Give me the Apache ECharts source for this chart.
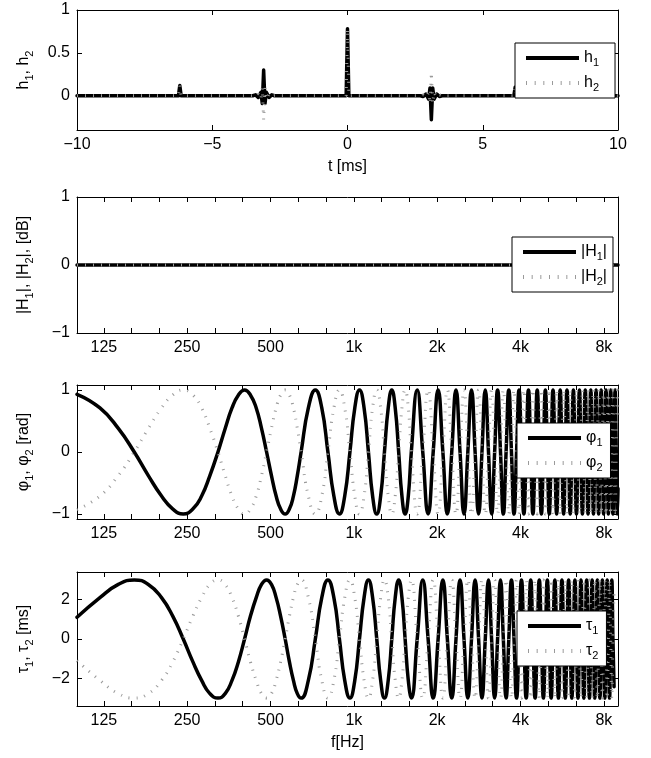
<!DOCTYPE html>
<html><head><meta charset="utf-8">
<script src="https://cdn.jsdelivr.net/npm/echarts@6/dist/echarts.min.js"></script>
<style>html,body{margin:0;padding:0;background:#fff}#c{width:651px;height:758px}</style>
</head><body><div id="c"></div>
<script>
// ---------- data ----------
const timeMs = [-10,-9.35,-9.3,-9.25,-6.25,-6.2,-6.15,-3.5,-3.4,-3.3,-3.2,-3.15,-3.1,-3.05,-3.0,-2.9,-2.8,-2.7,-0.05,0,0.05,2.7,2.8,2.9,3.0,3.05,3.1,3.15,3.2,3.3,3.4,3.5,6.15,6.2,6.25,9.25,9.3,9.35,10];
const h1 = [0,0,0.02,0,0,0.12,0,0,0.01,-0.02,0.04,-0.09,0.30,-0.09,0.04,-0.02,0.01,0,0,0.78,0,0,-0.01,0.02,-0.04,0.09,-0.28,0.09,-0.04,0.02,-0.01,0,0,0.10,0,0,-0.02,0,0];
const h2 = [0,0,-0.02,0,0,0.12,0,0,-0.01,0.02,-0.04,0.09,-0.28,0.09,-0.04,0.02,-0.01,0,0,0.78,0,0,0.01,-0.02,0.04,-0.09,0.27,-0.09,0.04,-0.02,0.01,0,0,0.10,0,0,0.02,0,0];

const freqFlat = [100, 9000];
const magH1 = [0, 0];
const magH2 = [0, 0];

const freqHz = [100,121,141,161,181,202,222,242,262,282,302,323,343,363,383,403,423,444,464,484,504,524,544,565,585,605,625,645,
685,726,766,806,847,887,927,968,1008,1048,1089,1129,1169,1210,1250,1290,1331,1371,1411,1452,1492,1532,1573,1613,
1694,1774,1855,1935,2016,2097,2177,2258,2339,2419,2500,2581,2661,2742,2823,2903,2984,3065,3145,3226,3306,3387,3468,3548,3629,3710,3790,3871,3952,4032,4113,4194,4274,4355,4435,4516,4597,4677,4758,4839,4919,5000,5081,5161,5242,5323,5403,5484,5565,5645,5726,5806,5887,5968,6048,6129,6210,6290,6371,6452,6532,6613,6694,6774,6855,6935,7016,7097,7177,7258,7339,7419,7500,7581,7661,7742,7823,7903,7984,8065,8145,8226,8306,8387,8468,8548,8629,8710,8790,8871,8952,9000];

const phi1 = [0.93,0.71,0.38,0,-0.38,-0.71,-0.92,-1,-0.92,-0.71,-0.38,0,0.38,0.71,0.92,1,0.92,0.71,0.38,0,-0.38,-0.71,-0.92,-1,-0.92,-0.71,-0.38,0,
0.71,1,0.71,0,-0.71,-1,-0.71,0,0.71,1,0.71,0,-0.71,-1,-0.71,0,0.71,1,0.71,0,-0.71,-1,-0.71,0,
1,0,-1,0,1,0,-1,0,1,0,-1,0,1,0,-1,0,1,0,-1,0,1,0,-1,0,1,0,-1,0,1,0,-1,0,1,0,-1,0,1,0,-1,0,1,0,-1,0,1,0,-1,0,1,0,-1,0,1,0,-1,0,1,0,-1,0,1,0,-1,0,1,0,-1,0,1,0,-1,0,1,0,-1,0,1,0,-1,0,1,0,-1,0,1,0,-1,0,1,0,-1,-0.59];
const phi2 = [-0.93,-0.71,-0.38,0,0.38,0.71,0.92,1,0.92,0.71,0.38,0,-0.38,-0.71,-0.92,-1,-0.92,-0.71,-0.38,0,0.38,0.71,0.92,1,0.92,0.71,0.38,0,
-0.71,-1,-0.71,0,0.71,1,0.71,0,-0.71,-1,-0.71,0,0.71,1,0.71,0,-0.71,-1,-0.71,0,0.71,1,0.71,0,
-1,0,1,0,-1,0,1,0,-1,0,1,0,-1,0,1,0,-1,0,1,0,-1,0,1,0,-1,0,1,0,-1,0,1,0,-1,0,1,0,-1,0,1,0,-1,0,1,0,-1,0,1,0,-1,0,1,0,-1,0,1,0,-1,0,1,0,-1,0,1,0,-1,0,1,0,-1,0,1,0,-1,0,1,0,-1,0,1,0,-1,0,1,0,-1,0,1,0,-1,0,1,0.59];
const tau1 = [1.1,2.1,2.77,3,2.77,2.1,1.15,0,-1.15,-2.1,-2.77,-3,-2.77,-2.1,-1.15,0,1.15,2.1,2.77,3,2.77,2.1,1.15,0,-1.15,-2.1,-2.77,-3,
-2.1,0,2.1,3,2.1,0,-2.1,-3,-2.1,0,2.1,3,2.1,0,-2.1,-3,-2.1,0,2.1,3,2.1,0,-2.1,-3,
0,3,0,-3,0,3,0,-3,0,3,0,-3,0,3,0,-3,0,3,0,-3,0,3,0,-3,0,3,0,-3,0,3,0,-3,0,3,0,-3,0,3,0,-3,0,3,0,-3,0,3,0,-3,0,3,0,-3,0,3,0,-3,0,3,0,-3,0,3,0,-3,0,3,0,-3,0,3,0,-3,0,3,0,-3,0,3,0,-3,0,3,0,-3,0,3,0,-2.42];
const tau2 = [-1.1,-2.1,-2.77,-3,-2.77,-2.1,-1.15,0,1.15,2.1,2.77,3,2.77,2.1,1.15,0,-1.15,-2.1,-2.77,-3,-2.77,-2.1,-1.15,0,1.15,2.1,2.77,3,
2.1,0,-2.1,-3,-2.1,0,2.1,3,2.1,0,-2.1,-3,-2.1,0,2.1,3,2.1,0,-2.1,-3,-2.1,0,2.1,3,
0,-3,0,3,0,-3,0,3,0,-3,0,3,0,-3,0,3,0,-3,0,3,0,-3,0,3,0,-3,0,3,0,-3,0,3,0,-3,0,3,0,-3,0,3,0,-3,0,3,0,-3,0,3,0,-3,0,3,0,-3,0,3,0,-3,0,3,0,-3,0,3,0,-3,0,3,0,-3,0,3,0,-3,0,3,0,-3,0,3,0,-3,0,3,0,-3,0,2.42];

const freqLabelTicks = [125,250,500,1000,2000,4000,8000];
const freqMinorTicks = [125,157.49,198.43,250,314.98,396.85,500,629.96,793.70,1000,1259.92,1587.40,2000,2519.84,3174.80,4000,5039.68,6349.60,8000];
const hTicks = [0,0.5,1];
const magTicks = [-1,0,1];
const phiTicks = [-1,0,1];
const tauTicks = [-2,0,2];

// ---------- chart ----------
const FONT = '"Liberation Sans", Arial, Helvetica, sans-serif';
const grids = [
  {left:77, top:10, width:541, height:120},
  {left:77, top:197, width:541, height:136},
  {left:77, top:385, width:541, height:134},
  {left:77, top:572, width:541, height:134}
];
const minus = v => String(v).replace('-', '\u2212');
const fmtFreq = v => v >= 1000 ? (Math.round(v/1000)) + 'k' : String(Math.round(v));
const rich = {s:{fontSize:11, lineHeight:11, verticalAlign:'bottom', fontFamily:FONT, color:'#000'}};
const nameStyle = {fontSize:16, color:'#000', fontFamily:FONT, lineHeight:22, rich};
const axLine = {show:true, onZero:false, lineStyle:{color:'#000', width:1}};
function tick(custom){ const t = {show:true, inside:true, length:5, lineStyle:{color:'#000', width:1}}; if (custom) t.customValues = custom; return t; }
function lab(show, fmt, custom){ const l = {show, color:'#000', fontSize:16, fontFamily:FONT, margin:7, formatter:fmt}; if (custom) l.customValues = custom; return l; }

const xAxis = [], yAxis = [];
['bottom','top'].forEach((pos,j) => xAxis.push({
  type:'value', gridIndex:0, position:pos, min:-10, max:10, interval:5,
  axisLine:axLine, axisTick:tick(), axisLabel:lab(j===0, minus), splitLine:{show:false},
  name: j===0 ? 't [ms]' : '', nameLocation:'middle', nameGap:26, nameTextStyle:nameStyle
}));
for (let g=1; g<=3; g++) {
  ['bottom','top'].forEach((pos,j) => xAxis.push({
    type:'log', logBase:2, gridIndex:g, position:pos, min:100, max:9000,
    axisLine:axLine, axisTick:tick(freqMinorTicks), axisLabel:lab(j===0, fmtFreq, freqLabelTicks),
    splitLine:{show:false}, minorTick:{show:false},
    name: (g===3 && j===0) ? 'f[Hz]' : '', nameLocation:'middle', nameGap:26, nameTextStyle:nameStyle
  }));
}
const ySpecs = [
  {min:-0.4, max:1, ticks:hTicks, name:'h{s|1}, h{s|2}'},
  {min:-1, max:1, ticks:magTicks, name:'|H{s|1}|, |H{s|2}|, [dB]'},
  {min:-1.08, max:1.08, ticks:phiTicks, name:'\u03c6{s|1}, \u03c6{s|2} [rad]'},
  {min:-3.4, max:3.4, ticks:tauTicks, name:'\u03c4{s|1}, \u03c4{s|2} [ms]'}
];
ySpecs.forEach((s,g) => {
  ['left','right'].forEach((pos,j) => yAxis.push({
    type:'value', gridIndex:g, position:pos, min:s.min, max:s.max,
    axisLine:axLine, axisTick:tick(s.ticks), axisLabel:lab(j===0, minus, s.ticks), splitLine:{show:false},
    name: j===0 ? s.name : '', nameLocation:'middle', nameGap:42, nameRotate:90, nameTextStyle:nameStyle
  }));
});

const solid = {color:'#000', width:3.5, cap:'round', join:'round'};
const dotted = {color:'#9a9a9a', width:3, type:[1,7]};
function zip(xs, ys){ return xs.map((x,i) => [x, ys[i]]); }
function ser(name, g, xs, ys, style, smooth){
  return {name, type:'line', xAxisIndex:g*2, yAxisIndex:g*2, data:zip(xs,ys), symbol:'none', showSymbol:false,
    smooth: smooth ? 0.5 : false, lineStyle:style, itemStyle:{color:style.color}, animation:false, silent:true};
}
const series = [
  ser('h1',0,timeMs,h1,solid,false), ser('h2',0,timeMs,h2,dotted,false),
  ser('H1',1,freqFlat,magH1,solid,false), ser('H2',1,freqFlat,magH2,dotted,false),
  ser('phi1',2,freqHz,phi1,solid,true), ser('phi2',2,freqHz,phi2,dotted,true),
  ser('tau1',3,freqHz,tau1,solid,true), ser('tau2',3,freqHz,tau2,dotted,true)
];
const legendText = {h1:'h{s|1}', h2:'h{s|2}', H1:'|H{s|1}|', H2:'|H{s|2}|', phi1:'\u03c6{s|1}', phi2:'\u03c6{s|2}', tau1:'\u03c4{s|1}', tau2:'\u03c4{s|2}'};
const SOLID_ICON = 'path://M0,0H53V4H0Z';
const DOT_ICON = 'path://M0,0h1v4h-1Z M8.67,0h1v4h-1Z M17.33,0h1v4h-1Z M26,0h1v4h-1Z M34.67,0h1v4h-1Z M43.33,0h1v4h-1Z M52,0h1v4h-1Z';
function leg(names, left, top, padRight){
  return {orient:'vertical', left, top, selectedMode:false,
    data:[{name:names[0], icon:SOLID_ICON}, {name:names[1], icon:DOT_ICON}],
    padding:[5,padRight,5,11], itemWidth:53, itemHeight:4, itemGap:5,
    borderColor:'#000', borderWidth:1, backgroundColor:'#fff', borderRadius:0,
    formatter: n => legendText[n],
    textStyle:{fontSize:16, color:'#000', fontFamily:FONT, lineHeight:20, rich}};
}
const option = {
  backgroundColor:'#fff', animation:false,
  grid: grids.map(g => Object.assign({containLabel:false, show:false}, g)),
  xAxis, yAxis, series,
  legend:[leg(['h1','h2'],515,43,16), leg(['H1','H2'],512,237,6), leg(['phi1','phi2'],517,423,8), leg(['tau1','tau2'],517,611,8)]
};
const chart = echarts.init(document.getElementById('c'), null, {renderer:'canvas'});
chart.setOption(option);
</script></body></html>
